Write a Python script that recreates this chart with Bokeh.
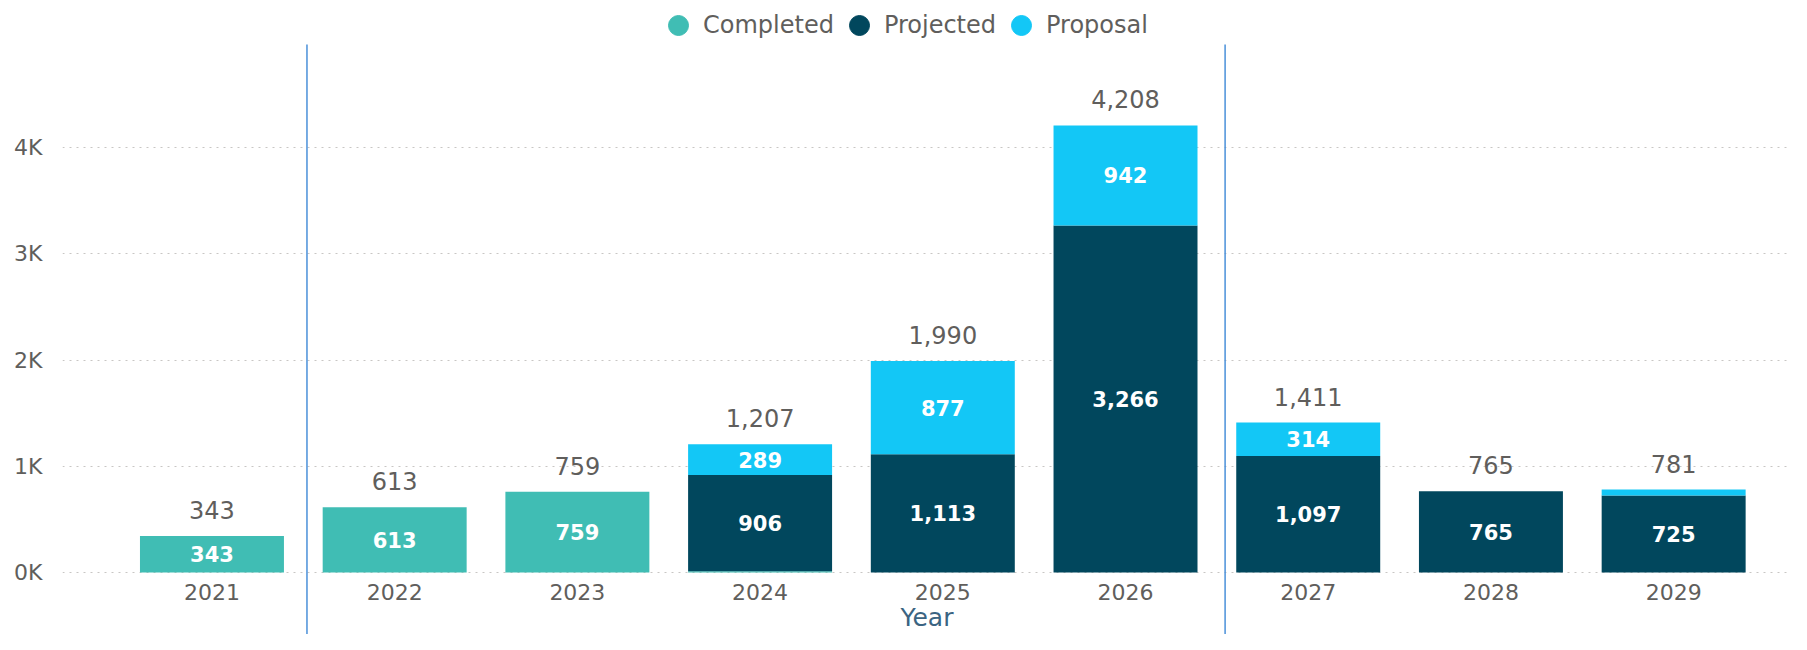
from bokeh.plotting import figure
from bokeh.models import ColumnDataSource, FixedTicker, Legend, LegendItem
from bokeh.embed import file_html
from bokeh.resources import INLINE
from bokeh.core.properties import value

# ---------------- data ----------------
years = ["2021", "2022", "2023", "2024", "2025", "2026", "2027", "2028", "2029"]
completed = [343, 613, 759, 12, 0, 0, 0, 0, 0]
projected = [0, 0, 0, 906, 1113, 3266, 1097, 765, 725]
proposal = [0, 0, 0, 289, 877, 942, 314, 0, 56]
series = ["Completed", "Projected", "Proposal"]
ytick_values = [0, 1000, 2000, 3000, 4000]
ytick_labels = ["0K", "1K", "2K", "3K", "4K"]
divider_after = ["2021", "2026"]

colors = ["#40BDB4", "#01475D", "#13C7F6"]
FONT = "DejaVu Sans"
GRAY = "#605E5C"

xs = list(range(len(years)))
totals = [a + b + c for a, b, c in zip(completed, projected, proposal)]
src = ColumnDataSource(dict(x=xs, completed=completed, projected=projected,
                            proposal=proposal))

p = figure(width=1791, height=634, x_range=(-0.818, 8.645), y_range=(-583.5, 5383.5),
           output_backend="svg", toolbar_location=None,
           min_border_left=62, min_border_right=0, min_border_top=0, min_border_bottom=0)
p.outline_line_color = None
p.background_fill_color = "white"

# stacked bars
p.vbar_stack(["completed", "projected", "proposal"], x="x", width=0.788,
             color=colors, line_color=None, source=src)

# segment labels (white, centred)
lx, ly, lt = [], [], []
for i in xs:
    base = 0
    for vals in (completed, projected, proposal):
        v = vals[i]
        if v >= 150:
            lx.append(i)
            ly.append(base + v / 2)
            lt.append(f"{v:,}")
        base += v
p.text(x=lx, y=ly, text=lt, text_align="center", text_baseline="middle",
       text_color="white", text_font=value(FONT), text_font_size="21px",
       text_font_style="bold")

# totals above bars
p.text(x=xs, y=totals, text=[f"{t:,}" for t in totals], y_offset=-26,
       text_align="center", text_baseline="middle", text_color=GRAY,
       text_font=value(FONT), text_font_size="24px")

# divider lines
dx = [years.index(y) + (0.52 if y == "2021" else 0.545) for y in divider_after]
p.segment(x0=dx, y0=[-1500] * len(dx), x1=dx, y1=[4969] * len(dx),
          line_color="#4A90D9", line_width=1.5)

# legend (circle markers; renderers with zero-size marks)
items = []
for name, c in zip(series, colors):
    r = p.scatter(x=[xs[0]], y=[0], size=0, marker="circle",
                  fill_color=c, line_color=c)
    items.append(LegendItem(label=name, renderers=[r]))
legend = Legend(items=items, orientation="horizontal", location=(591, 584),
                glyph_width=50, glyph_height=50, label_standoff=0, spacing=0,
                padding=0, margin=0, border_line_color=None, background_fill_alpha=0,
                label_text_font=FONT, label_text_font_size="24px",
                label_text_color=GRAY)
p.add_layout(legend)

# axes
p.yaxis.ticker = FixedTicker(ticks=ytick_values)
p.yaxis.major_label_overrides = dict(zip(ytick_values, ytick_labels))
p.yaxis.axis_line_color = None
p.yaxis.major_tick_line_color = None
p.yaxis.minor_tick_line_color = None
p.yaxis.major_label_standoff = 14
p.yaxis.major_label_text_font = FONT
p.yaxis.major_label_text_font_size = "22px"
p.yaxis.major_label_text_color = GRAY

p.xaxis.ticker = FixedTicker(ticks=xs)
p.xaxis.major_label_overrides = dict(zip(xs, years))
p.xaxis.fixed_location = 0
p.xaxis.axis_line_color = None
p.xaxis.major_tick_line_color = None
p.xaxis.minor_tick_line_color = None
p.xaxis.major_label_standoff = 5
p.xaxis.major_label_text_font = FONT
p.xaxis.major_label_text_font_size = "22px"
p.xaxis.major_label_text_color = GRAY
p.xaxis.axis_label = "Year"
p.xaxis.axis_label_standoff = 0
p.xaxis.axis_label_text_font = FONT
p.xaxis.axis_label_text_font_size = "25px"
p.xaxis.axis_label_text_font_style = "normal"
p.xaxis.axis_label_text_color = "#3B6482"

p.xgrid.visible = False
p.ygrid.ticker = FixedTicker(ticks=ytick_values)
p.ygrid.grid_line_color = "#C8C6C4"
p.ygrid.grid_line_dash = "2 5"
p.ygrid.grid_line_width = 1

open("out.html", "w").write(file_html(p, INLINE))
